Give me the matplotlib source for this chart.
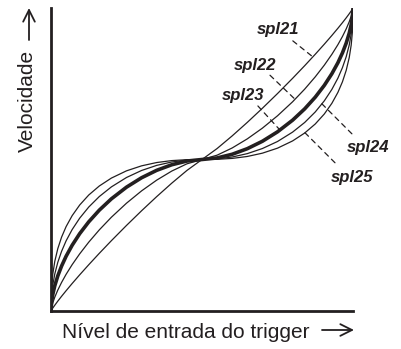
import numpy as np
import matplotlib
matplotlib.use('Agg')
import matplotlib.pyplot as plt

# Curvas de velocidade (escala 0-100).
# Só a metade inferior (0-50) é guardada; a metade superior é simétrica
# em relação ao ponto central (50, 50).
entrada = [0, 0.2, 0.6, 1.25, 2.25, 3.5, 5, 7, 9.5, 12.5, 16, 20, 25,
           30, 35, 40, 45, 50]
spl21 = [0, 0.36, 0.98, 1.90, 3.25, 4.85, 6.69, 9.07, 11.94, 15.27, 19.04,
         23.21, 28.24, 33.09, 37.75, 42.20, 46.38, 50]
spl22 = [0, 1.23, 2.70, 4.55, 6.90, 9.42, 12.10, 15.29, 18.86, 22.72, 26.78,
         30.95, 35.58, 39.65, 43.19, 46.19, 48.57, 50]
spl23 = [0, 2.93, 5.49, 8.32, 11.59, 14.83, 18.07, 21.69, 25.53, 29.43,
         33.29, 37.02, 40.87, 43.98, 46.43, 48.27, 49.49, 50]
spl24 = [0, 5.13, 8.64, 12.21, 16.07, 19.69, 23.15, 26.87, 30.64, 34.31,
         37.78, 40.96, 44.06, 46.38, 48.06, 49.18, 49.81, 50]
spl25 = [0, 7.92, 12.25, 16.37, 20.58, 24.37, 27.85, 31.46, 34.98, 38.28,
         41.26, 43.87, 46.26, 47.91, 49.00, 49.64, 49.94, 50]

nomes = ['spl21', 'spl22', 'spl23', 'spl24', 'spl25']
curvas = [spl21, spl22, spl23, spl24, spl25]
curva_grossa = 'spl23'

# onde cada etiqueta toca a sua curva (entrada) e deslocamentos em pixels
# (início da linha tracejada, centro do texto)
etiquetas = {
    'spl21': (86.7, (-20, 16), (-35, 27)),
    'spl22': (80.8, (-25, 24), (-40, 34)),
    'spl23': (75.8, (-22, 24), (-37, 34)),
    'spl24': (89.7, (30, -30), (46, -44)),
    'spl25': (84.1, (30, -30), (47, -45)),
}


def curva_completa(x, y):
    """Junta a metade inferior com a sua imagem simétrica"""
    x = np.asarray(x, float)
    y = np.asarray(y, float)
    xs = np.concatenate([x, 100 - x[-2::-1]])
    ys = np.concatenate([y, 100 - y[-2::-1]])
    return xs, ys


W, H = 401, 349
fig = plt.figure(figsize=(W / 100.0, H / 100.0), dpi=100)
fig.set_facecolor('w')
ax = fig.add_axes([51.0 / W, 38.0 / H, 302.0 / W, 303.0 / H])
ax.set_xlim(0, 100)
ax.set_ylim(0, 100)
ax.set_xticks([])
ax.set_yticks([])
for lado in ('top', 'right'):
    ax.spines[lado].set_visible(False)
for lado in ('left', 'bottom'):
    ax.spines[lado].set_linewidth(2.0)
    ax.spines[lado].set_color('#231f20')
    ax.spines[lado].set_capstyle('projecting')

for nome, valores in zip(nomes, curvas):
    xs, ys = curva_completa(entrada, valores)
    lw = 2.6 if nome == curva_grossa else 0.9
    ax.plot(xs, ys, color='#231f20', lw=lw, solid_joinstyle='round',
            solid_capstyle='round', zorder=3)

    xc, inicio, texto = etiquetas[nome]
    yc = np.interp(xc, xs, ys)
    ax.annotate('', xy=(xc, yc), xytext=inicio, textcoords='offset pixels',
                arrowprops=dict(arrowstyle='-', lw=0.9, color='#231f20',
                                linestyle=(0, (4, 3.5)),
                                shrinkA=0, shrinkB=0))
    ax.annotate(nome, xy=(xc, yc), xytext=texto, textcoords='offset pixels',
                ha='center', va='center', fontsize=12, fontweight='bold',
                fontstyle='italic', family='Liberation Sans', color='#231f20')

# Títulos dos eixos com setas
fig.text(62.0 / W, (H - 338.0) / H, u'Nível de entrada do trigger',
         ha='left', va='baseline', fontsize=15, family='Liberation Sans',
         color='#231f20')
fig.text(33.0 / W, (H - 152.0) / H, u'Velocidade', rotation=90,
         rotation_mode='anchor', ha='left', va='baseline', fontsize=15,
         family='Liberation Sans', color='#231f20')

seta = dict(arrowstyle='->,head_length=0.7,head_width=0.35', lw=1.3,
            color='#231f20', shrinkA=0, shrinkB=0, mutation_scale=12)
fig.add_artist(matplotlib.patches.FancyArrowPatch(
    (322, H - 330), (354, H - 330), transform=None, **seta))
fig.add_artist(matplotlib.patches.FancyArrowPatch(
    (29, H - 40), (29, H - 8), transform=None, **seta))

fig.savefig('out.png', dpi=100, facecolor='w')
